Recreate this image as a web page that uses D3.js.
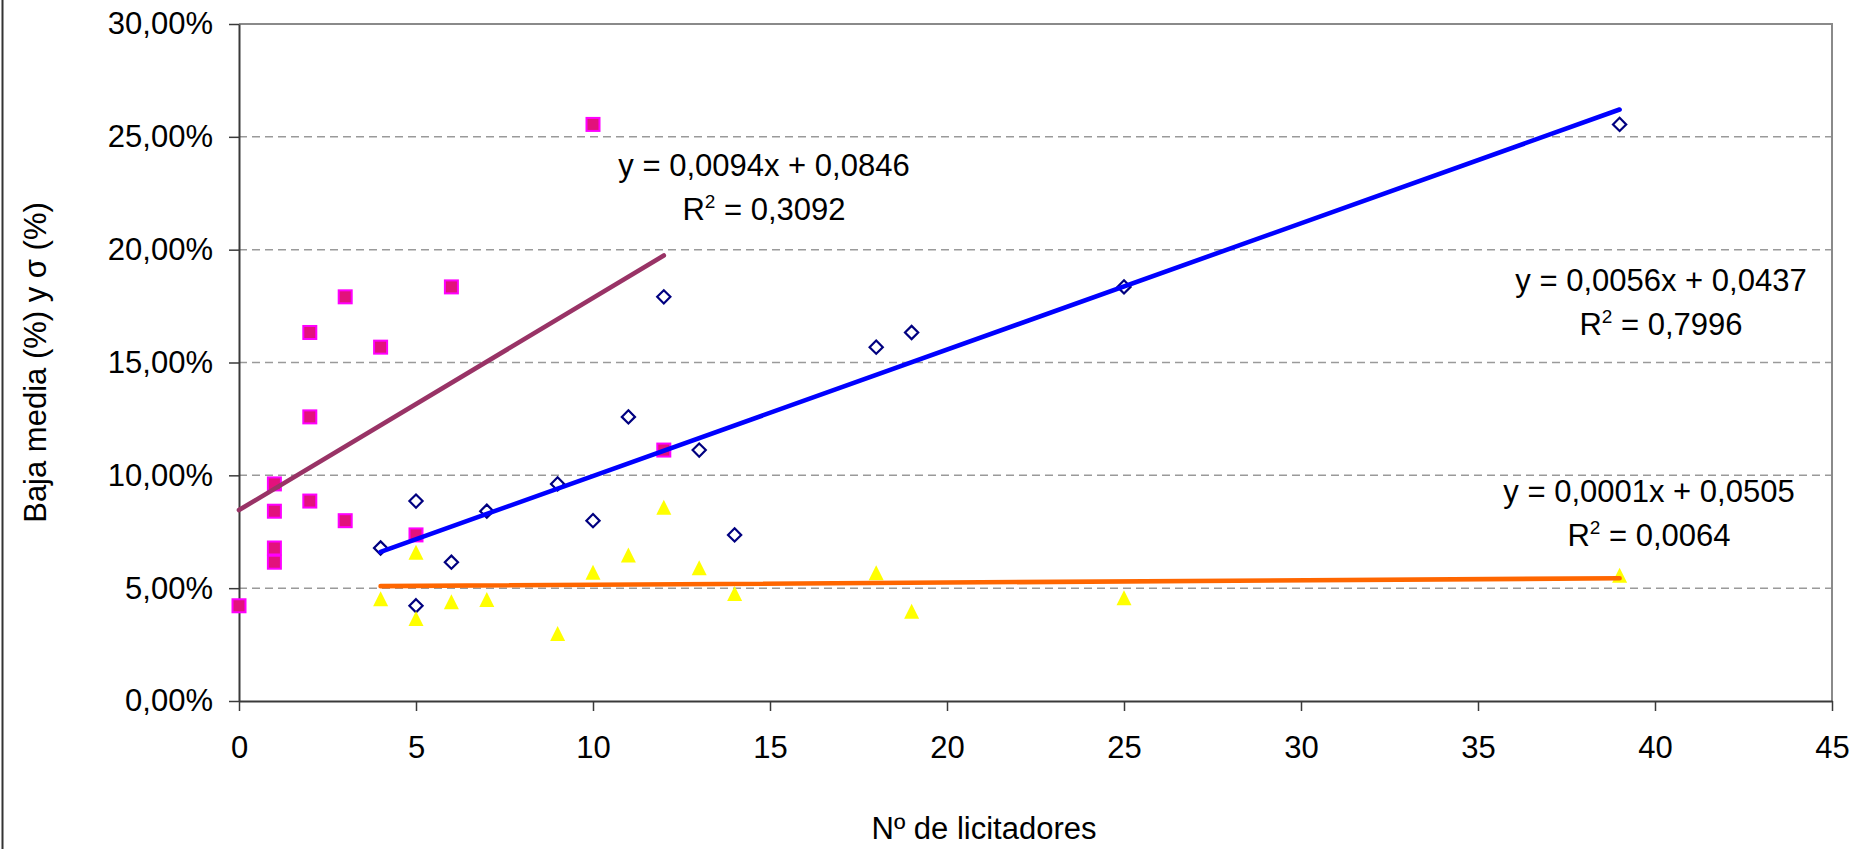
<!DOCTYPE html>
<html>
<head>
<meta charset="utf-8">
<script src="https://cdn.jsdelivr.net/npm/d3@7"></script>
<style>
  html, body { margin: 0; padding: 0; background: #fff; }
  svg { display: block; }
  text { font-family: "Liberation Sans", Arial, sans-serif; fill: #000; }
</style>
</head>
<body>
<svg id="chart" width="1865" height="849"></svg>
<script>
// ---------------- DATA ----------------
// Nº de licitadores (x of the diamond and triangle series)
const licitadores = [4, 5, 5, 6, 7, 9, 10, 11, 12, 13, 14, 18, 19, 25, 39];
// Baja media (%) for each project
const bajaMedia = [0.0678, 0.0886, 0.0422, 0.0615, 0.0841, 0.0962, 0.0799, 0.1259, 0.1791, 0.1112, 0.0736, 0.1568, 0.1633, 0.1835, 0.2555];
// sigma (%) for each project
const sigma = [0.0453, 0.0659, 0.0366, 0.0440, 0.0450, 0.0299, 0.0571, 0.0647, 0.0859, 0.0590, 0.0476, 0.0568, 0.0398, 0.0457, 0.0557];
// second x variable for the pink square series
const licitadoresB = [1, 2, 0, 1, 1, 1, 3, 2, 3, 12, 5, 4, 2, 6, 10];

// Trendlines (pink, blue, orange)
const trendSlope = [0.0094, 0.0056, 0.0001];
const trendIntercept = [0.0846, 0.0437, 0.0505];
const trendSlopeText = ["0,0094", "0,0056", "0,0001"];
const trendInterceptText = ["0,0846", "0,0437", "0,0505"];
const trendR2Text = ["0,3092", "0,7996", "0,0064"];

const xTicks = [0, 5, 10, 15, 20, 25, 30, 35, 40, 45];
const yTicks = [0, 0.05, 0.10, 0.15, 0.20, 0.25, 0.30];
const xTitle = "Nº de licitadores";
const yTitle = "Baja media (%) y σ (%)";

// ---------------- LAYOUT ----------------
const plot = { left: 239, right: 1832, top: 24, bottom: 701 };
const FS = 31;
const labelPos = [ // centre x, baseline of first line (pixels)
  { x: 764, y: 176 },
  { x: 1661, y: 291 },
  { x: 1649, y: 502 }
];
const lineColors = ["#993366", "#0000FF", "#FF6600"];

const svg = d3.select("#chart");
const x = d3.scaleLinear().domain([0, 45]).range([plot.left, plot.right]);
const y = d3.scaleLinear().domain([0, 0.30]).range([plot.bottom, plot.top]);

const locale = d3.formatLocale({ decimal: ",", thousands: ".", grouping: [3], currency: ["", "€"], percent: "%" });
const pct = locale.format(".2%");

// outer chart border (left edge visible)
svg.append("line").attr("x1", 2.5).attr("x2", 2.5).attr("y1", 0).attr("y2", 849)
  .attr("stroke", "#333").attr("stroke-width", 2);

// gridlines
svg.append("g").selectAll("line")
  .data(yTicks.filter(t => t > 0 && t < 0.30))
  .join("line")
  .attr("x1", plot.left).attr("x2", plot.right)
  .attr("y1", d => y(d)).attr("y2", d => y(d))
  .attr("stroke", "#9a9a9a").attr("stroke-width", 1.5)
  .attr("stroke-dasharray", "8,5");

// plot border top/right (gray)
svg.append("path")
  .attr("d", `M${plot.left},${y(0.30)}H${x(45)}V${plot.bottom}`)
  .attr("fill", "none").attr("stroke", "#8a8a8a").attr("stroke-width", 2);

// axes
const yAxis = d3.axisLeft(y).tickValues(yTicks).tickFormat(pct).tickSize(10).tickSizeOuter(0).tickPadding(16);
const gy = svg.append("g").attr("transform", `translate(${plot.left},0)`).call(yAxis);
const xAxis = d3.axisBottom(x).tickValues(xTicks).tickFormat(d3.format("d")).tickSize(10).tickSizeOuter(0).tickPadding(25);
const gx = svg.append("g").attr("transform", `translate(0,${plot.bottom})`).call(xAxis);
[gx, gy].forEach(g => {
  g.select(".domain").attr("stroke", "#3a3a3a").attr("stroke-width", 2);
  g.selectAll(".tick line").attr("stroke", "#3a3a3a").attr("stroke-width", 1.5);
  g.selectAll(".tick text").attr("font-size", FS).attr("font-family", '"Liberation Sans", Arial, sans-serif').attr("fill", "#000");
});

// axis titles
svg.append("text").attr("x", 984).attr("y", 839).attr("text-anchor", "middle")
  .attr("font-size", FS).text(xTitle);
svg.append("text").attr("transform", `translate(46,${(plot.top + plot.bottom) / 2}) rotate(-90)`)
  .attr("text-anchor", "middle").attr("font-size", FS).text(yTitle);

// markers
const idx = d3.range(licitadores.length);
const diamondPath = r => `M0,${-r}L${r},0L0,${r}L${-r},0Z`;
const trianglePath = r => `M0,${-r}L${r},${r}L${-r},${r}Z`;

svg.append("g").selectAll("path")
  .data(idx).join("path")
  .attr("d", diamondPath(6.6))
  .attr("transform", i => `translate(${x(licitadores[i])},${y(bajaMedia[i])})`)
  .attr("fill", "#fff").attr("stroke", "#000080").attr("stroke-width", 2.2);

svg.append("g").selectAll("rect")
  .data(idx).join("rect")
  .attr("x", i => x(licitadoresB[i]) - 6.5).attr("y", i => y(bajaMedia[i]) - 6.5)
  .attr("width", 13).attr("height", 13)
  .attr("fill", "#E2127C").attr("stroke", "#FF00FF").attr("stroke-width", 2);

svg.append("g").selectAll("path")
  .data(idx).join("path")
  .attr("d", trianglePath(7.5))
  .attr("transform", i => `translate(${x(licitadores[i])},${y(sigma[i])})`)
  .attr("fill", "#FFFF00");

// trendlines
const seriesX = [licitadoresB, licitadores, licitadores];
const line = d3.line().x(d => x(d[0])).y(d => y(d[1]));
trendSlope.forEach((m, k) => {
  const [x0, x1] = d3.extent(seriesX[k]);
  const pts = [[x0, m * x0 + trendIntercept[k]], [x1, m * x1 + trendIntercept[k]]];
  svg.append("path").attr("d", line(pts))
    .attr("fill", "none").attr("stroke", lineColors[k]).attr("stroke-width", 4.6)
    .attr("stroke-linecap", "round");
});

// trendline labels
trendSlope.forEach((m, k) => {
  const p = labelPos[k];
  svg.append("text").attr("x", p.x).attr("y", p.y).attr("text-anchor", "middle")
    .attr("font-size", FS)
    .text(`y = ${trendSlopeText[k]}x + ${trendInterceptText[k]}`);
  const t = svg.append("text").attr("x", p.x).attr("y", p.y + 44).attr("text-anchor", "middle")
    .attr("font-size", FS);
  t.append("tspan").text("R");
  t.append("tspan").attr("font-size", 19).attr("dy", -12).text("2");
  t.append("tspan").attr("dy", 12).text(` = ${trendR2Text[k]}`);
});
</script>
</body>
</html>
